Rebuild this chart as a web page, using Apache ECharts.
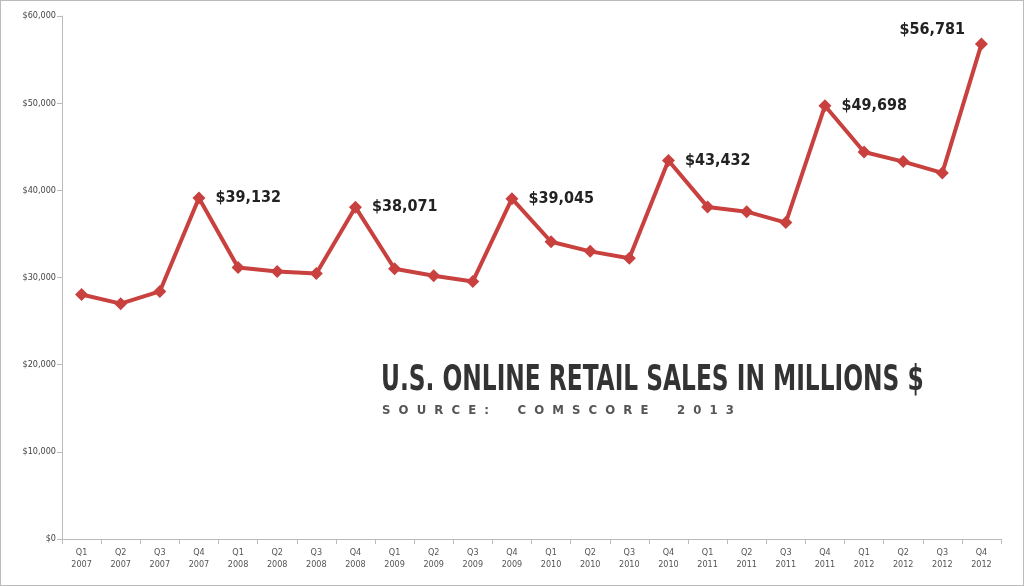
<!DOCTYPE html>
<html><head><meta charset="utf-8">
<script src="https://cdn.jsdelivr.net/npm/echarts@6/dist/echarts.min.js"></script>
<style>html,body{margin:0;padding:0;background:#fff}#c{width:1024px;height:586px;box-sizing:border-box;border:1px solid #bbb}</style>
</head><body><div id="c"></div>
<script>
var categories = ['Q1\n2007','Q2\n2007','Q3\n2007','Q4\n2007','Q1\n2008','Q2\n2008','Q3\n2008','Q4\n2008','Q1\n2009','Q2\n2009','Q3\n2009','Q4\n2009','Q1\n2010','Q2\n2010','Q3\n2010','Q4\n2010','Q1\n2011','Q2\n2011','Q3\n2011','Q4\n2011','Q1\n2012','Q2\n2012','Q3\n2012','Q4\n2012'];
var sales = [28050,27000,28400,39132,31150,30700,30450,38071,31000,30200,29550,39045,34100,33000,32200,43432,38100,37550,36300,49698,44400,43300,42000,56781];
var labeled = [3,7,11,15,19,23];
var chart = echarts.init(document.getElementById('c'));
var data = sales.map(function(v,i){
  var d = {value:v};
  if (labeled.indexOf(i)>=0) {
    d.label = {show:true, position: i===23?'left':'right', distance:10, offset: i===23?[0,-14]:[0,0],
      formatter: '$' + v.toLocaleString('en-US'),
      fontFamily:'DejaVu Sans Condensed', fontWeight:'bold', fontSize:16, color:'#222'};
  }
  return d;
});
chart.setOption({
  animation:false,
  grid:{left:61,right:22,top:15,bottom:46},
  graphic:[
    {type:'text',x:380,y:362,scaleX:0.74,style:{text:'U.S. ONLINE RETAIL SALES IN MILLIONS $',font:'bold 35px "DejaVu Sans Condensed"',fill:'#333'}},
    {type:'text',x:381,y:403,style:{text:'S  O  U  R  C  E  :       C  O  M  S  C  O  R  E       2  0  1  3',font:'bold 13px "DejaVu Sans Condensed"',fill:'#555'}}
  ],
  xAxis:{type:'category',data:categories,boundaryGap:true,
    axisLine:{lineStyle:{color:'#bbb'}},axisTick:{show:true,lineStyle:{color:'#bbb'}},
    axisLabel:{color:'#555',fontSize:9,fontFamily:'DejaVu Sans Condensed',lineHeight:12,interval:0}},
  yAxis:{type:'value',min:0,max:60000,interval:10000,
    axisLine:{show:true,lineStyle:{color:'#bbb'}},axisTick:{show:true,lineStyle:{color:'#bbb'}},
    splitLine:{show:false},
    axisLabel:{color:'#444',fontSize:9,fontFamily:'DejaVu Sans Condensed',margin:6,
      formatter:function(v){return '$'+v.toLocaleString('en-US');}}},
  series:[{type:'line',data:data,symbol:'diamond',symbolSize:13,
    lineStyle:{color:'#c9413f',width:4},itemStyle:{color:'#c9413f'}}]
});
</script></body></html>
